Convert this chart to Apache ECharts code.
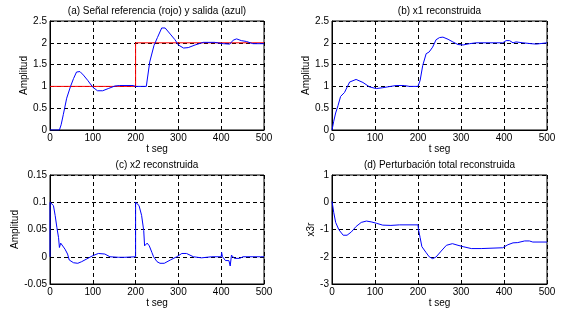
<!DOCTYPE html>
<html>
<head>
<meta charset="utf-8">
<script src="https://cdn.jsdelivr.net/npm/echarts@6/dist/echarts.min.js"></script>
<style>
  html, body { margin: 0; padding: 0; background: #fff; }
  #chart { width: 562px; height: 314px; }
</style>
</head>
<body>
<div id="chart"></div>
<script>
// (a) referencia y salida
var refT = [0, 200, 200, 500];
var refY = [1, 1, 2, 2];
var salidaT = [0, 22, 26, 31, 39, 48, 55, 62, 70, 78, 88, 100, 111, 123, 136, 152, 163, 194, 200, 225, 233, 243, 251, 261, 269, 281, 292, 300, 312, 323, 339, 358, 385, 405, 420, 428, 436, 447, 459, 474, 500];
var salidaY = [0, 0, 0.12, 0.35, 0.73, 1.0, 1.18, 1.33, 1.34, 1.26, 1.14, 0.98, 0.90, 0.90, 0.95, 1.01, 1.02, 1.02, 1.0, 1.0, 1.56, 1.94, 2.12, 2.34, 2.34, 2.2, 2.07, 1.95, 1.88, 1.89, 1.95, 2.01, 2.01, 1.98, 1.97, 2.06, 2.09, 2.05, 2.03, 1.98, 1.98];
// (b) x1 reconstruida
var x1T = [0, 4, 8.5, 14, 20, 29, 41, 56, 72, 87, 103, 118, 130, 149, 168, 180, 200, 205, 211, 219, 226, 234, 242, 250, 258, 270, 281, 293, 305, 320, 335, 397, 405, 413, 421, 428, 444, 463, 475, 500];
var x1Y = [0, 0.2, 0.39, 0.56, 0.77, 0.86, 1.1, 1.16, 1.09, 0.99, 0.95, 0.97, 0.99, 1.02, 1.02, 1.0, 1.0, 1.14, 1.48, 1.75, 1.79, 1.9, 2.07, 2.12, 2.13, 2.08, 2.02, 1.96, 1.95, 1.98, 2.0, 2.0, 2.05, 2.05, 2.0, 2.02, 2.0, 1.98, 1.97, 2.0];
// (c) x2 reconstruida
var x2T = [0, 0, 4, 8, 12, 16, 20, 22, 25, 29, 35, 41, 45, 55, 65, 74, 86, 100, 113, 128, 140, 160, 175, 200, 200, 202, 208, 214, 219, 221, 227, 232, 238, 242, 250, 257, 267, 281, 296, 308, 319, 335, 354, 378, 400, 401, 403, 410, 418, 421, 424, 428, 431, 443, 451, 486, 488, 492, 500];
var x2Y = [0, 0.1, 0.099, 0.094, 0.076, 0.054, 0.035, 0.017, 0.025, 0.023, 0.014, 0.005, -0.006, -0.011, -0.012, -0.009, -0.004, 0.002, 0.006, 0.005, 0, -0.001, -0.001, 0, 0.1, 0.1, 0.094, 0.076, 0.048, 0.02, 0.025, 0.02, 0.008, 0, -0.009, -0.012, -0.012, -0.006, 0, 0.006, 0.006, 0, -0.002, 0, 0, 0.008, 0, -0.007, -0.007, -0.017, 0.003, 0.003, -0.003, -0.003, 0, 0, 0.002, 0, 0];
// (d) perturbacion total reconstruida
var x3T = [0, 4, 8.5, 16, 26, 35, 45, 56, 68, 80, 91, 103, 118, 137, 157, 200, 201, 205, 209, 219, 226, 234, 242, 254, 266, 280, 293, 305, 324, 347, 351, 397, 409, 421, 432, 448, 459, 467, 500];
var x3Y = [0.03, -0.37, -0.74, -1.01, -1.21, -1.21, -1.09, -0.89, -0.74, -0.69, -0.72, -0.77, -0.84, -0.85, -0.83, -0.83, -0.99, -1.3, -1.63, -1.85, -2.0, -2.07, -2.01, -1.79, -1.58, -1.52, -1.58, -1.63, -1.7, -1.7, -1.67, -1.67, -1.56, -1.49, -1.48, -1.42, -1.42, -1.46, -1.46];

var titulos = ['(a) Señal referencia (rojo) y salida (azul)', '(b) x1 reconstruida', '(c) x2 reconstruida', '(d) Perturbación total reconstruida'];
var nombresY = ['Amplitud', 'Amplitud', 'Amplitud', 'x3r'];

function zip(t, y) {
  return t.map(function (v, i) { return [v, y[i]]; });
}

var fuente = 'Liberation Sans, Arial, sans-serif';
var grids = [
  { left: 50, top: 21, width: 214, height: 109 },
  { left: 332, top: 21, width: 215, height: 109 },
  { left: 50, top: 175, width: 214, height: 109 },
  { left: 332, top: 175, width: 215, height: 109 }
];
var rangosY = [[0, 2.5, 0.5], [0, 2.5, 0.5], [-0.05, 0.15, 0.05], [-3, 1, 1]];
var gapsY = [20, 19, 28, 14];

var splitDash = { show: true, lineStyle: { color: '#000', type: [4, 3], width: 1 } };

var chart = echarts.init(document.getElementById('chart'));
var option = {
  backgroundColor: '#fff',
  animation: false,
  title: grids.map(function (g, i) {
    return {
      text: titulos[i],
      left: g.left + g.width / 2,
      top: g.top - 15,
      padding: 0,
      textAlign: 'center',
      textStyle: { fontFamily: fuente, fontSize: 10, fontWeight: 'normal', color: '#000' }
    };
  }),
  grid: grids.map(function (g) {
    return Object.assign({ show: true, borderColor: '#000', borderWidth: 1, backgroundColor: '#fff' }, g);
  }),
  xAxis: grids.map(function (g, i) {
    return {
      type: 'value', gridIndex: i, min: 0, max: 500, interval: 100,
      name: 't seg', nameLocation: 'middle', nameGap: 12,
      nameTextStyle: { fontFamily: fuente, fontSize: 10, color: '#000' },
      axisLine: { show: true, onZero: false, lineStyle: { color: '#000' } },
      axisTick: { show: false },
      axisLabel: { margin: 3, fontFamily: fuente, fontSize: 10, color: '#000' },
      splitLine: splitDash
    };
  }),
  yAxis: grids.map(function (g, i) {
    var r = rangosY[i];
    return {
      type: 'value', gridIndex: i, min: r[0], max: r[1], interval: r[2],
      name: nombresY[i], nameLocation: 'middle', nameGap: gapsY[i],
      nameTextStyle: { fontFamily: fuente, fontSize: 10, color: '#000' },
      axisLine: { show: true, onZero: false, lineStyle: { color: '#000' } },
      axisTick: { show: false },
      axisLabel: {
        margin: 3, fontFamily: fuente, fontSize: 10, color: '#000',
        formatter: function (v) { return String(+v.toFixed(2)); }
      },
      splitLine: splitDash
    };
  }),
  series: [
    { type: 'line', xAxisIndex: 0, yAxisIndex: 0, data: zip(refT, refY), showSymbol: false, lineStyle: { color: '#ff0000', width: 1 } },
    { type: 'line', xAxisIndex: 0, yAxisIndex: 0, data: zip(salidaT, salidaY), showSymbol: false, lineStyle: { color: '#0000ff', width: 1 } },
    { type: 'line', xAxisIndex: 1, yAxisIndex: 1, data: zip(x1T, x1Y), showSymbol: false, lineStyle: { color: '#0000ff', width: 1 } },
    { type: 'line', xAxisIndex: 2, yAxisIndex: 2, data: zip(x2T, x2Y), showSymbol: false, lineStyle: { color: '#0000ff', width: 1 } },
    { type: 'line', xAxisIndex: 3, yAxisIndex: 3, data: zip(x3T, x3Y), showSymbol: false, lineStyle: { color: '#0000ff', width: 1 } }
  ]
};
chart.setOption(option);
window.addEventListener('resize', function () { chart.resize(); });
</script>
</body>
</html>
